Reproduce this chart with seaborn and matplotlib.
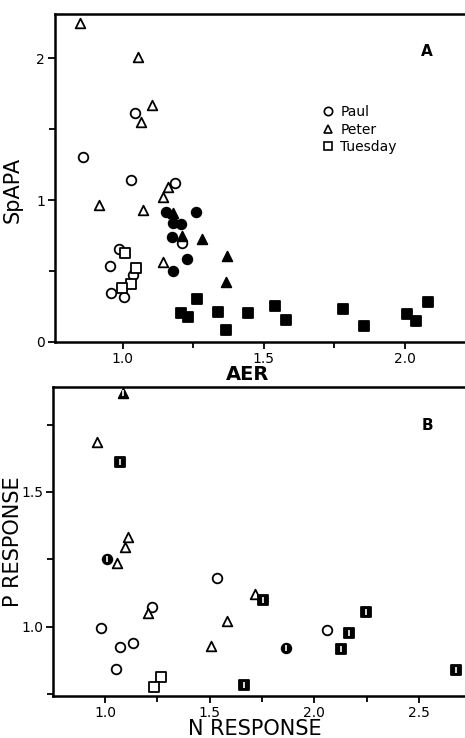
import matplotlib
matplotlib.use("Agg")
import matplotlib.pyplot as plt
import pandas as pd
import seaborn as sns
from matplotlib.lines import Line2D
from matplotlib.ticker import MultipleLocator

# Panel A: AER vs SpAPA
a_paul_open_x = [1.043, 0.858, 1.028, 1.184, 1.209, 0.986, 0.954, 1.035, 0.957, 1.004]
a_paul_open_y = [1.61, 1.30, 1.14, 1.12, 0.70, 0.655, 0.535, 0.47, 0.345, 0.317]
a_peter_open_x = [0.848, 1.053, 1.103, 1.064, 1.16, 1.142, 0.915, 1.07, 1.142]
a_peter_open_y = [2.25, 2.01, 1.67, 1.55, 1.09, 1.02, 0.965, 0.93, 0.56]
a_tues_open_x = [1.007, 1.046, 1.028, 0.996]
a_tues_open_y = [0.627, 0.52, 0.41, 0.38]
a_paul_fill_x = [1.152, 1.258, 1.177, 1.206, 1.173, 1.227, 1.177]
a_paul_fill_y = [0.915, 0.915, 0.84, 0.83, 0.74, 0.585, 0.50]
a_peter_fill_x = [1.177, 1.209, 1.28, 1.369, 1.365]
a_peter_fill_y = [0.91, 0.75, 0.725, 0.605, 0.42]
a_tues_fill_x = [1.262, 1.206, 1.23, 1.337, 1.365, 1.443, 1.539, 1.578, 1.78, 1.855, 2.007, 2.039, 2.082]
a_tues_fill_y = [0.30, 0.205, 0.175, 0.21, 0.085, 0.205, 0.25, 0.155, 0.23, 0.115, 0.20, 0.15, 0.28]

# Panel B: N RESPONSE vs P RESPONSE
b_paul_open_x = [1.536, 1.225, 0.98, 1.134, 1.072, 1.053, 2.062]
b_paul_open_y = [1.18, 1.074, 0.996, 0.94, 0.926, 0.844, 0.989]
b_peter_open_x = [0.962, 1.11, 1.096, 1.057, 1.206, 1.584, 1.507, 1.718]
b_peter_open_y = [1.685, 1.333, 1.296, 1.237, 1.052, 1.022, 0.93, 1.122]
b_tues_open_x = [1.268, 1.234]
b_tues_open_y = [0.815, 0.778]
b_paul_half_x = [1.01, 1.866]
b_paul_half_y = [1.252, 0.922]
b_peter_half_x = [1.086]
b_peter_half_y = [1.867]
b_tues_half_x = [1.072, 1.756, 2.249, 2.167, 2.129, 2.679, 1.665]
b_tues_half_y = [1.61, 1.10, 1.056, 0.978, 0.918, 0.84, 0.785]

subjects = ["Paul", "Peter", "Tuesday"]
marker_of = {"Paul": "o", "Peter": "^", "Tuesday": "s"}


def frame(groups):
    rows = []
    for subject, state, xs, ys in groups:
        for x, y in zip(xs, ys):
            rows.append({"x": x, "y": y, "subject": subject, "state": state})
    return pd.DataFrame(rows)


panel_a = frame([
    ("Paul", "open", a_paul_open_x, a_paul_open_y),
    ("Peter", "open", a_peter_open_x, a_peter_open_y),
    ("Tuesday", "open", a_tues_open_x, a_tues_open_y),
    ("Paul", "filled", a_paul_fill_x, a_paul_fill_y),
    ("Peter", "filled", a_peter_fill_x, a_peter_fill_y),
    ("Tuesday", "filled", a_tues_fill_x, a_tues_fill_y),
])
panel_b = frame([
    ("Paul", "open", b_paul_open_x, b_paul_open_y),
    ("Peter", "open", b_peter_open_x, b_peter_open_y),
    ("Tuesday", "open", b_tues_open_x, b_tues_open_y),
    ("Paul", "half", b_paul_half_x, b_paul_half_y),
    ("Peter", "half", b_peter_half_x, b_peter_half_y),
    ("Tuesday", "half", b_tues_half_x, b_tues_half_y),
])

sns.set_style("ticks")
plt.rcParams["font.family"] = ["DejaVu Sans"]
plt.rcParams.update({"text.color": "black", "axes.labelcolor": "black",
                     "xtick.color": "black", "ytick.color": "black"})

fig = plt.figure(figsize=(4.65, 7.38), dpi=100)
ax_a = fig.add_axes([0.118, 0.5366, 0.882, 0.4444])
ax_b = fig.add_axes([0.114, 0.0569, 0.886, 0.4187])


def draw(ax, data):
    for (subject, state), part in data.groupby(["subject", "state"]):
        marker = marker_of[subject]
        face = "white" if state == "open" else "black"
        size = 48 if marker != "s" else 42
        sns.scatterplot(data=part, x="x", y="y", marker=marker, s=size,
                        facecolor=face, edgecolor="black", linewidth=1.3,
                        ax=ax, zorder=3, legend=False)
        if state == "half":
            sns.scatterplot(data=part, x="x", y="y", marker="|", s=14,
                            color="white", linewidth=1.2, ax=ax, zorder=4,
                            legend=False)


def style(ax):
    for side in ["left", "bottom", "top"]:
        ax.spines[side].set_linewidth(1.8)
        ax.spines[side].set_color("black")
    ax.spines["right"].set_visible(False)
    ax.tick_params(which="both", direction="out", width=1.3, labelsize=10,
                   top=False, right=False, pad=2)
    ax.tick_params(which="major", length=5)
    ax.tick_params(which="minor", length=4)


draw(ax_a, panel_a)
ax_a.set_xlim(0.759, 2.213)
ax_a.set_ylim(0, 2.31)
ax_a.set_xticks([1.0, 1.5, 2.0], ["1.0", "1.5", "2.0"])
ax_a.set_yticks([0, 1, 2], ["0", "1", "2"])
ax_a.xaxis.set_minor_locator(MultipleLocator(0.25))
ax_a.yaxis.set_minor_locator(MultipleLocator(0.5))
style(ax_a)
ax_a.set_xlabel("AER", fontsize=14, fontweight="bold")
ax_a.xaxis.set_label_coords(0.47, -0.071)
ax_a.set_ylabel("SpAPA", fontsize=15)
ax_a.yaxis.set_label_coords(-0.078, 0.463)
ax_a.text(0.906, 0.885, "A", transform=ax_a.transAxes, fontsize=11,
          fontweight="bold", ha="center", va="center")

handles = [Line2D([], [], linestyle="", marker=marker_of[s], markersize=6,
                  markerfacecolor="white", markeredgecolor="black",
                  markeredgewidth=1.2, label=s) for s in subjects]
ax_a.legend(handles=handles, loc="upper left", bbox_to_anchor=(0.615, 0.76),
            frameon=False, fontsize=10, handletextpad=0.3, labelspacing=0.25,
            handlelength=1.2)

draw(ax_b, panel_b)
ax_b.set_xlim(0.751, 2.72)
ax_b.set_ylim(0.744, 1.889)
ax_b.set_xticks([1.0, 1.5, 2.0, 2.5], ["1.0", "1.5", "2.0", "2.5"])
ax_b.set_yticks([1.0, 1.5], ["1.0", "1.5"])
ax_b.xaxis.set_minor_locator(MultipleLocator(0.25))
ax_b.yaxis.set_minor_locator(MultipleLocator(0.25))
style(ax_b)
ax_b.set_xlabel("N RESPONSE", fontsize=15)
ax_b.xaxis.set_label_coords(0.49, -0.076)
ax_b.set_ylabel("P RESPONSE", fontsize=15)
ax_b.yaxis.set_label_coords(-0.072, 0.5)
ax_b.text(0.91, 0.875, "B", transform=ax_b.transAxes, fontsize=11,
          fontweight="bold", ha="center", va="center")

fig.savefig("out.png", dpi=100)
